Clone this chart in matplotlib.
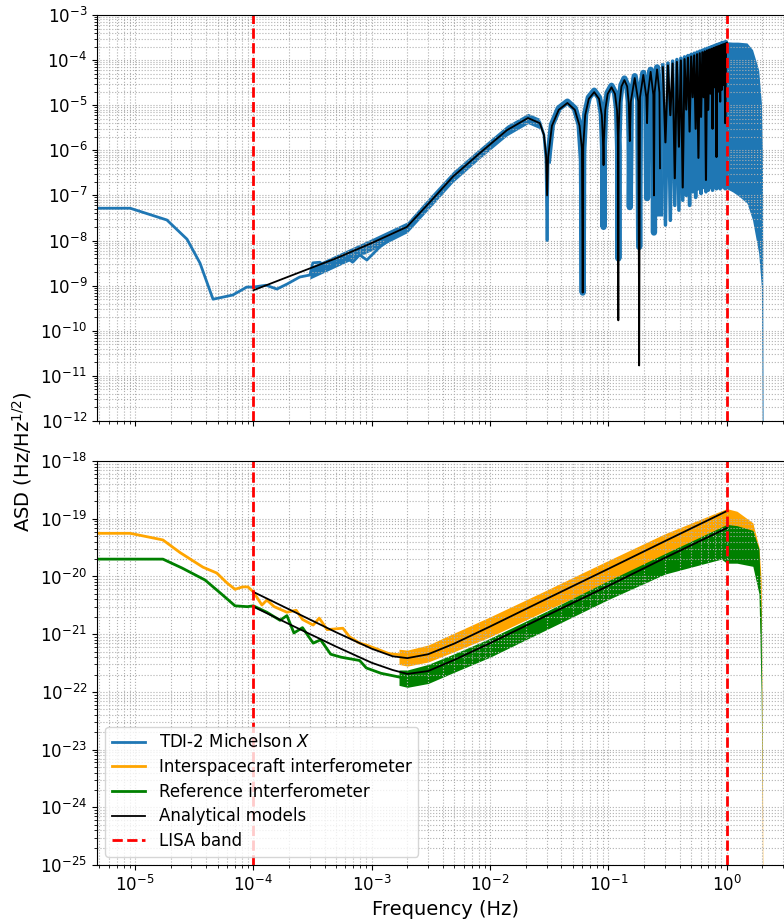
import matplotlib
matplotlib.use("Agg")
import matplotlib.pyplot as plt
from matplotlib.ticker import LogLocator, NullFormatter

# ---- TDI-2 Michelson X (simulated ASD) ----
tdi_f = [4.8e-6, 9.1e-6, 1.86e-5, 2.75e-5, 3.54e-5, 4.56e-5, 6.7e-5, 8.8e-5,
         1.0e-4, 1.28e-4, 1.58e-4, 1.92e-4, 2.46e-4, 3.0e-4, 3.18e-4, 3.65e-4,
         4.2e-4, 4.7e-4, 6.2e-4, 6.9e-4, 7.9e-4, 9.1e-4, 1.17e-3, 1.5e-3,
         1.73e-3, 1.98e-3, 3.1e-3, 4.85e-3, 8.2e-3, 1.39e-2, 2.09e-2, 2.63e-2,
         2.85e-2, 2.97e-2, 3.03e-2,
         0.0309, 0.0333, 0.038, 0.045, 0.052, 0.057, 0.0597, 0.0606,
         0.0612, 0.0636, 0.0682, 0.0758, 0.0833, 0.0879, 0.0903, 0.0909,
         0.0915, 0.0939, 0.0985, 0.1061, 0.1136, 0.1182, 0.1206, 0.1212,
         0.1218, 0.1242, 0.1288, 0.1364, 0.1440, 0.1485, 0.1509, 0.1515,
         0.1545, 0.1667, 0.1788, 0.1818,
         0.1848, 0.1970, 0.2091, 0.2121,
         0.2151, 0.2273, 0.2394, 0.2424,
         0.2454, 0.2576, 0.2697, 0.2727]
tdi_v = [5.2e-8, 5.2e-8, 2.85e-8, 1.07e-8, 3.16e-9, 5.0e-10, 6.2e-10, 9.3e-10,
         9.3e-10, 1.02e-9, 8.4e-10, 1.08e-9, 1.55e-9, 1.72e-9, 3.2e-9, 3.3e-9,
         2.45e-9, 2.9e-9, 4.1e-9, 3.3e-9, 4.8e-9, 3.7e-9, 7.2e-9, 1.14e-8,
         1.47e-8, 2.0e-8, 7.1e-8, 2.6e-7, 8.7e-7, 2.8e-6, 5.4e-6, 4.2e-6,
         2.2e-6, 6.0e-7, 1.0e-8,
         6.0e-7, 3.7e-6, 8.5e-6, 1.2e-5, 8.5e-6, 3.7e-6, 6.0e-7, 7.0e-10,
         9.0e-7, 6.4e-6, 1.48e-5, 2.1e-5, 1.48e-5, 6.4e-6, 9.0e-7, 2.0e-8,
         1.2e-6, 8.3e-6, 1.9e-5, 2.7e-5, 1.9e-5, 8.3e-6, 1.2e-6, 4.0e-9,
         1.7e-6, 1.2e-5, 2.8e-5, 3.9e-5, 2.8e-5, 1.2e-5, 1.7e-6, 5.5e-8,
         1.3e-5, 4.4e-5, 1.3e-5, 7.2e-9,
         1.6e-5, 5.2e-5, 1.6e-5, 8.7e-8,
         1.9e-5, 6.1e-5, 1.9e-5, 1.5e-8,
         2.1e-5, 6.9e-5, 2.1e-5, 4.0e-8]

# densely packed lobes between 0.27 Hz and 1 Hz (peak, notch, peak, ...)
dense_f = [0.2879, 0.3030, 0.3182, 0.3333, 0.3485, 0.3636, 0.3788, 0.3939,
           0.4091, 0.4242, 0.4394, 0.4545, 0.4697, 0.4848, 0.5000, 0.5152,
           0.5303, 0.5455, 0.5606, 0.5758, 0.5909, 0.6061, 0.6212, 0.6364,
           0.6515, 0.6667, 0.6818, 0.6970, 0.7121, 0.7273, 0.7424, 0.7576,
           0.7727, 0.7879, 0.8030, 0.8182, 0.8333, 0.8485, 0.8636, 0.8788,
           0.8939, 0.9091, 0.9242, 0.9394, 0.9545, 0.9697, 0.9848, 1.0]
dense_tdi_v = [7.8e-5, 2.2e-8, 8.6e-5, 2.8e-8, 9.5e-5, 6.0e-8, 1.03e-4, 4.7e-8,
               1.1e-4, 7.8e-8, 1.18e-4, 1.0e-7, 1.26e-4, 6.0e-8, 1.34e-4, 1.2e-7,
               1.42e-4, 9.0e-8, 1.5e-4, 1.4e-7, 1.58e-4, 1.1e-7, 1.66e-4, 1.5e-7,
               1.74e-4, 1.2e-7, 1.82e-4, 1.3e-7, 1.9e-4, 1.5e-7, 1.98e-4, 1.3e-7,
               2.06e-4, 1.6e-7, 2.14e-4, 1.4e-7, 2.22e-4, 1.5e-7, 2.3e-4, 1.4e-7,
               2.38e-4, 1.6e-7, 2.45e-4, 1.5e-7, 2.5e-4, 1.4e-7, 2.55e-4, 1.5e-7]
dense_model_v = [6.9e-5, 1.5e-6, 7.6e-5, 6.0e-6, 8.4e-5, 2.4e-7, 9.1e-5, 1.2e-6,
                 9.8e-5, 1.5e-7, 1.05e-4, 8.0e-6, 1.13e-4, 2.6e-6, 1.2e-4, 1.5e-5,
                 1.27e-4, 3.0e-6, 1.35e-4, 6.8e-7, 1.42e-4, 5.5e-6, 1.49e-4, 1.5e-5,
                 1.56e-4, 2.2e-7, 1.64e-4, 7.9e-6, 1.71e-4, 1.8e-5, 1.78e-4, 3.0e-6,
                 1.86e-4, 2.5e-5, 1.93e-4, 7.1e-7, 2.0e-4, 2.0e-5, 2.07e-4, 1.2e-5,
                 2.15e-4, 2.2e-5, 2.22e-4, 2.8e-5, 2.29e-4, 4.0e-6, 2.36e-4, 2.4e-4]

# noise spread around the rising part of the spectrum
tdi_band_f = [3.0e-4, 1.0e-3, 2.0e-3, 3.1e-3, 4.85e-3, 8.2e-3, 1.39e-2, 2.09e-2, 2.63e-2]
tdi_band_hi = [2.6e-9, 1.1e-8, 2.6e-8, 9.5e-8, 3.4e-7, 1.12e-6, 3.6e-6, 6.6e-6, 5.1e-6]
tdi_band_lo = [1.4e-9, 6.0e-9, 1.5e-8, 5.3e-8, 1.95e-7, 6.6e-7, 2.1e-6, 3.9e-6, 3.0e-6]

# above 1 Hz, up to the anti-aliasing cut
tdi_hf_f = [1.0, 1.12, 1.24, 1.48, 1.65, 1.86, 1.96, 2.0, 2.03]
tdi_hf_hi = [2.55e-4, 2.5e-4, 2.5e-4, 2.4e-4, 1.7e-4, 6.0e-5, 1.1e-5, 8.7e-7, 1e-13]
tdi_hf_lo = [1.4e-7, 1.2e-7, 1.0e-7, 6.8e-8, 2.85e-8, 5.2e-9, 9.3e-10, 1e-13, 1e-13]

# ---- TDI-2 analytical model ----
model_f = [1.0e-4, 2.0e-4, 5.08e-4, 1.0e-3, 1.98e-3, 3.1e-3, 4.85e-3, 8.2e-3,
           1.39e-2, 2.09e-2, 2.63e-2, 2.85e-2, 2.97e-2, 3.03e-2,
           0.0309, 0.0333, 0.038, 0.045, 0.052, 0.057, 0.0597, 0.0606,
           0.0612, 0.0636, 0.0682, 0.0758, 0.0833, 0.0879, 0.0903, 0.0909,
           0.0915, 0.0939, 0.0985, 0.1061, 0.1136, 0.1182, 0.1206, 0.1212,
           0.1218, 0.1242, 0.1288, 0.1364, 0.1440, 0.1485, 0.1509, 0.1515,
           0.1545, 0.1667, 0.1788, 0.1818,
           0.1848, 0.1970, 0.2091, 0.2121,
           0.2151, 0.2273, 0.2394, 0.2424,
           0.2454, 0.2576, 0.2697, 0.2727]
model_v = [7.9e-10, 1.6e-9, 4.1e-9, 8.8e-9, 2.0e-8, 7.1e-8, 2.6e-7, 8.7e-7,
           2.8e-6, 5.2e-6, 4.0e-6, 2.2e-6, 8.0e-7, 1.0e-7,
           7.0e-7, 3.5e-6, 7.9e-6, 1.12e-5, 7.9e-6, 3.5e-6, 1.1e-6, 7.0e-10,
           1.2e-6, 6.0e-6, 1.38e-5, 1.95e-5, 1.38e-5, 6.0e-6, 1.2e-6, 4.7e-7,
           1.6e-6, 7.7e-6, 1.78e-5, 2.5e-5, 1.78e-5, 7.7e-6, 1.6e-6, 1.7e-10,
           2.3e-6, 1.1e-5, 2.6e-5, 3.6e-5, 2.6e-5, 1.1e-5, 2.3e-6, 1.6e-6,
           1.2e-5, 4.0e-5, 1.2e-5, 1.7e-11,
           1.5e-5, 4.7e-5, 1.5e-5, 4.0e-6,
           1.7e-5, 5.5e-5, 1.7e-5, 1.0e-7,
           1.9e-5, 6.2e-5, 1.9e-5, 4.0e-7]

# ---- interspacecraft interferometer ----
isc_f = [4.9e-6, 9.1e-6, 1.72e-5, 2.4e-5, 3.75e-5, 4.9e-5, 6.0e-5, 7.0e-5,
         8.1e-5, 9.0e-5, 1.0e-4, 1.18e-4, 1.3e-4, 1.5e-4, 1.92e-4, 2.3e-4,
         2.6e-4, 3.2e-4, 3.6e-4, 4.2e-4, 5.7e-4, 6.5e-4, 7.9e-4, 9.0e-4,
         1.17e-3, 1.4e-3, 1.73e-3]
isc_v = [5.6e-20, 5.6e-20, 4.3e-20, 2.6e-20, 1.45e-20, 1.15e-20, 7.7e-21, 6.0e-21,
         6.6e-21, 6.6e-21, 5.4e-21, 3.2e-21, 3.9e-21, 3.0e-21, 2.4e-21, 2.6e-21,
         1.8e-21, 1.44e-21, 1.9e-21, 1.2e-21, 1.27e-21, 9.0e-22, 7.0e-22, 6.5e-22,
         5.3e-22, 4.6e-22, 4.4e-22]
isc_band_f = [1.7e-3, 2.0e-3, 3.0e-3, 5.0e-3, 1.0e-2, 3.0e-2, 0.1, 0.3, 1.0,
              1.22, 1.66, 1.87, 1.95, 2.0, 2.02]
isc_band_hi = [5.5e-22, 5.3e-22, 6.5e-22, 1.05e-21, 2.0e-21, 5.8e-21, 1.9e-20, 5.5e-20, 1.5e-19,
               1.35e-19, 8.5e-20, 3.2e-20, 8.7e-21, 1e-23, 1e-26]
isc_band_lo = [3.0e-22, 2.8e-22, 3.3e-22, 5.0e-22, 9.0e-22, 2.6e-21, 8.0e-21, 2.4e-20, 7.0e-20,
               6.5e-20, 4.5e-20, 1.5e-20, 1e-21, 1e-25, 1e-26]
isc_model_f = [1.0e-4, 2.0e-4, 5.0e-4, 1.0e-3, 1.5e-3, 2.0e-3, 3.0e-3, 5.0e-3,
               1.0e-2, 3.0e-2, 0.1, 0.3, 1.0]
isc_model_v = [5.4e-21, 2.7e-21, 1.08e-21, 5.6e-22, 4.15e-22, 3.85e-22, 4.5e-22, 6.9e-22,
               1.36e-21, 4.1e-21, 1.36e-20, 4.1e-20, 1.36e-19]

# ---- reference interferometer ----
ref_f = [4.9e-6, 1.72e-5, 2.5e-5, 3.9e-5, 5.3e-5, 7.0e-5, 8.9e-5, 1.0e-4,
         1.3e-4, 1.68e-4, 1.92e-4, 2.2e-4, 2.6e-4, 3.2e-4, 3.7e-4, 4.5e-4,
         5.5e-4, 7.9e-4, 9.0e-4, 1.2e-3, 1.73e-3]
ref_v = [2.0e-20, 2.0e-20, 1.4e-20, 8.7e-21, 5.1e-21, 3.1e-21, 3.0e-21, 3.1e-21,
         2.4e-21, 1.74e-21, 2.1e-21, 1.05e-21, 1.3e-21, 7.0e-22, 8.0e-22, 4.5e-22,
         4.0e-22, 3.5e-22, 2.6e-22, 2.1e-22, 1.8e-22]
ref_band_f = [1.7e-3, 2.0e-3, 3.0e-3, 5.0e-3, 1.0e-2, 3.0e-2, 0.1, 0.3, 0.9, 1.0,
              1.22, 1.66, 1.87, 1.95, 2.0, 2.02]
ref_band_hi = [2.4e-22, 2.4e-22, 3.0e-22, 4.6e-22, 8.5e-22, 2.5e-21, 8.5e-21, 2.5e-20, 7.2e-20, 8.0e-20,
               7.6e-20, 6.3e-20, 3.0e-20, 2.3e-21, 8e-25, 1e-26]
ref_band_lo = [1.3e-22, 1.2e-22, 1.4e-22, 2.2e-22, 4.0e-22, 1.2e-21, 4.0e-21, 1.1e-20, 2.0e-20, 1.7e-20,
               1.7e-20, 1.5e-20, 5.0e-21, 1e-22, 8e-25, 1e-26]
ref_model_f = [1.0e-4, 2.0e-4, 5.0e-4, 1.0e-3, 1.5e-3, 2.0e-3, 3.0e-3, 5.0e-3,
               1.0e-2, 3.0e-2, 0.1, 0.3, 1.0]
ref_model_v = [3.0e-21, 1.5e-21, 6.1e-22, 3.2e-22, 2.4e-22, 2.05e-22, 2.3e-22, 3.6e-22,
               7.0e-22, 2.1e-21, 6.9e-21, 2.1e-20, 6.9e-20]

band_edges = [1e-4, 1.0]

# decade ticks
x_ticks = [1e-5, 1e-4, 1e-3, 1e-2, 1e-1, 1e0]
top_y_ticks = [1e-12, 1e-11, 1e-10, 1e-9, 1e-8, 1e-7, 1e-6, 1e-5, 1e-4, 1e-3]
bot_y_ticks = [1e-25, 1e-24, 1e-23, 1e-22, 1e-21, 1e-20, 1e-19, 1e-18]

blue, orange, green = "#1f77b4", "orange", "green"

fig = plt.figure(figsize=(7.84, 9.24), dpi=100)
ax1 = fig.add_axes([0.1237, 0.5444, 0.890, 0.4394])
ax2 = fig.add_axes([0.1237, 0.0638, 0.890, 0.4372], sharex=ax1)

# top panel: TDI-2 X
ax1.fill_between(tdi_band_f, tdi_band_lo, tdi_band_hi, color=blue, lw=0)
h_tdi, = ax1.plot(tdi_f, tdi_v, color=blue, lw=2)
ax1.plot(tdi_f[35:], tdi_v[35:], color=blue, lw=4.5)
ax1.plot(dense_f, dense_tdi_v, color=blue, lw=2.5)
ax1.fill_between(tdi_hf_f, tdi_hf_lo, tdi_hf_hi, color=blue, lw=0)
h_mod, = ax1.plot(model_f, model_v, color="black", lw=1.3)
ax1.plot(dense_f, dense_model_v, color="black", lw=1.5)

# bottom panel: optical metrology noise
h_isc, = ax2.plot(isc_f, isc_v, color=orange, lw=2)
ax2.fill_between(isc_band_f, isc_band_lo, isc_band_hi, color=orange, lw=0)
h_ref, = ax2.plot(ref_f, ref_v, color=green, lw=2)
ax2.fill_between(ref_band_f, ref_band_lo, ref_band_hi, color=green, lw=0)
ax2.plot(isc_model_f, isc_model_v, color="black", lw=1.3)
ax2.plot(ref_model_f, ref_model_v, color="black", lw=1.3)

for ax, yt in ((ax1, top_y_ticks), (ax2, bot_y_ticks)):
    h_band = None
    for fb in band_edges:
        h_band = ax.axvline(fb, color="red", ls="--", lw=2)
    ax.set_xscale("log")
    ax.set_yscale("log")
    ax.grid(True, which="both", ls=":")
    ax.set_yticks(yt)
    ax.yaxis.set_minor_locator(LogLocator(base=10, subs=range(2, 10), numticks=300))
    ax.yaxis.set_minor_formatter(NullFormatter())
    ax.tick_params(labelsize=12)

ax1.set_xticks(x_ticks)
ax1.xaxis.set_minor_locator(LogLocator(base=10, subs=range(2, 10), numticks=300))
ax1.xaxis.set_minor_formatter(NullFormatter())
ax1.tick_params(labelbottom=False)

ax1.set_xlim(4.77e-6, 3.75)
ax1.set_ylim(1e-12, 1e-3)
ax2.set_ylim(1e-25, 1e-18)

ax2.set_xlabel("Frequency (Hz)", fontsize=14)
fig.text(0.028, 0.5, r"ASD (Hz/Hz$^{1/2}$)", rotation=90, fontsize=14,
         ha="center", va="center")

ax2.legend([h_tdi, h_isc, h_ref, h_mod, h_band],
           ["TDI-2 Michelson $X$", "Interspacecraft interferometer",
            "Reference interferometer", "Analytical models", "LISA band"],
           loc="lower left", fontsize=12, labelspacing=0.4)

fig.savefig("out.png", dpi=100)
